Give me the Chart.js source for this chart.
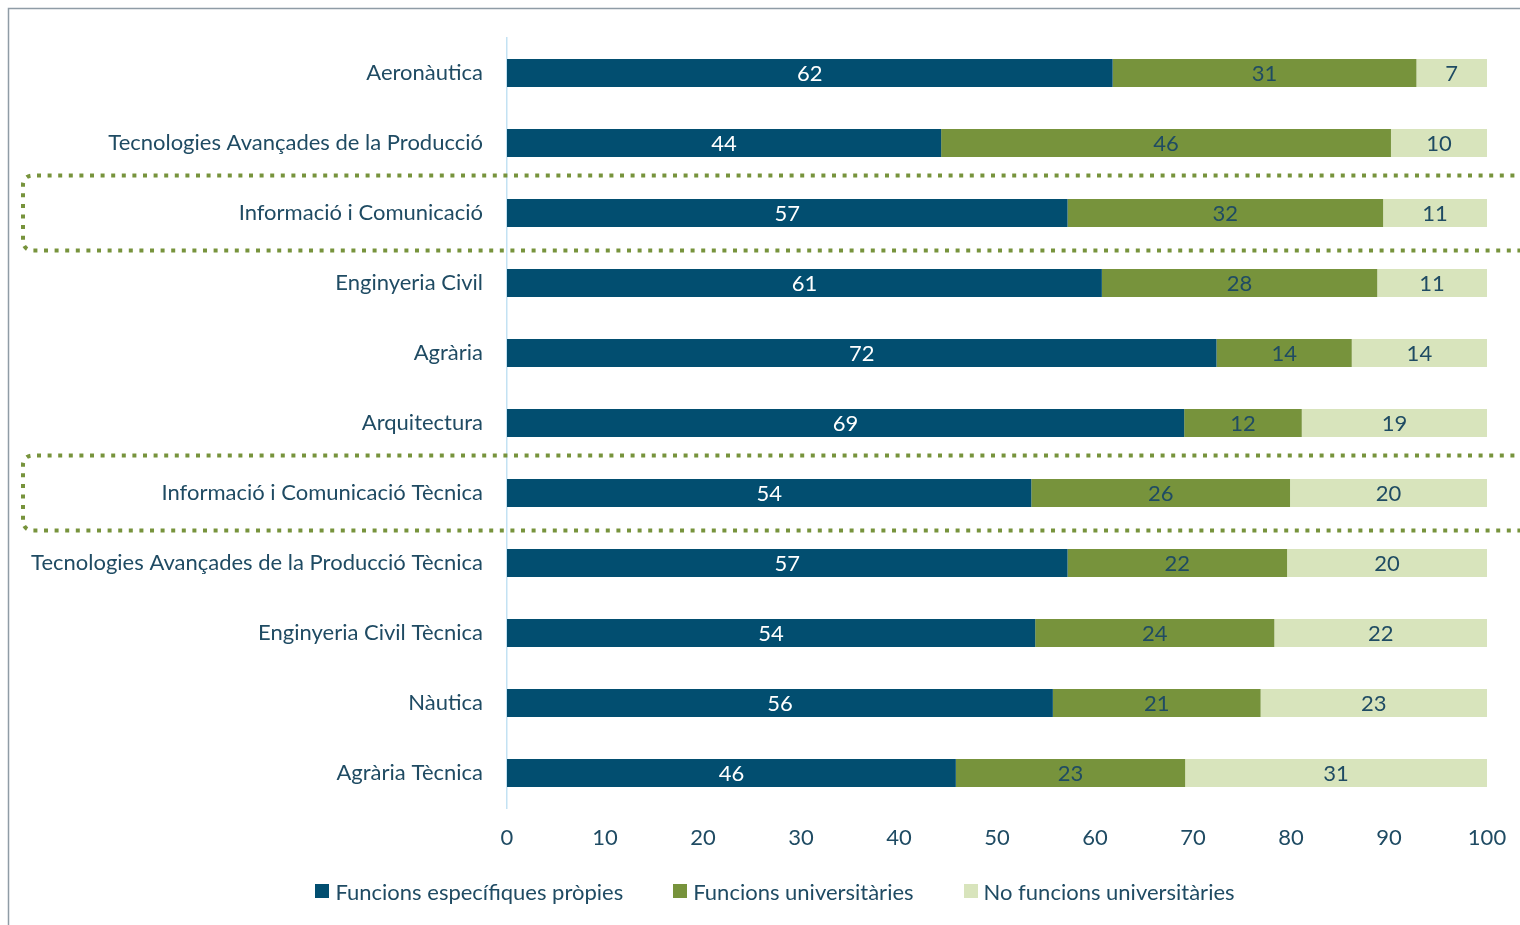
<!DOCTYPE html>
<html>
<head>
<meta charset="utf-8">
<script src="https://cdn.jsdelivr.net/npm/chart.js@4.4.0/dist/chart.umd.min.js"></script>
<style>
  html, body { margin: 0; padding: 0; background: #ffffff; }
  #wrap { position: relative; width: 1520px; height: 925px; overflow: hidden; }
  #legend {
    position: absolute; left: 0; top: 877px; width: 1550px; height: 28px;
    display: flex; justify-content: center; align-items: center; gap: 50px;
    font-family: Lato, sans-serif; font-size: 22px; color: #1f4b63;
  }
  #legend .item { display: flex; align-items: center; white-space: nowrap; }
  #legend .box { width: 14px; height: 14px; margin-right: 6px; display: inline-block; }
</style>
</head>
<body>
<div id="wrap">
  <canvas id="chart" width="1520" height="925"></canvas>
  <div id="legend"></div>
</div>
<script>
// Categories (top to bottom)
const categories = [
  "Aeronàutica",
  "Tecnologies Avançades de la Producció",
  "Informació i Comunicació",
  "Enginyeria Civil",
  "Agrària",
  "Arquitectura",
  "Informació i Comunicació Tècnica",
  "Tecnologies Avançades de la Producció Tècnica",
  "Enginyeria Civil Tècnica",
  "Nàutica",
  "Agrària Tècnica"
];

// Series values (%)
const propies = [61.8, 44.3, 57.2, 60.7, 72.4, 69.1, 53.5, 57.2, 53.9, 55.7, 45.8];
const universitaries = [31.0, 45.9, 32.2, 28.1, 13.8, 12.0, 26.4, 22.4, 24.4, 21.2, 23.4];
const noUniversitaries = [7.2, 9.8, 10.6, 11.2, 13.8, 18.9, 20.1, 20.4, 21.7, 23.1, 30.8];

// Labels shown inside the bars
const propiesLabels = [62, 44, 57, 61, 72, 69, 54, 57, 54, 56, 46];
const universitariesLabels = [31, 46, 32, 28, 14, 12, 26, 22, 24, 21, 23];
const noUniversitariesLabels = [7, 10, 11, 11, 14, 19, 20, 20, 22, 23, 31];

const seriesNames = ["Funcions específiques pròpies", "Funcions universitàries", "No funcions universitàries"];
const seriesColors = ["#024e70", "#77933c", "#d8e4bc"];
const xTicks = [0, 10, 20, 30, 40, 50, 60, 70, 80, 90, 100];

// Rows framed with a dotted box
const highlightedRows = ["Informació i Comunicació", "Informació i Comunicació Tècnica"];

const TEXT_COLOR = "#1f4b63";
const FONT = "Lato";
const FONT_SIZE = 22;

// Gray frame on the top and left sides
const framePlugin = {
  id: "frame",
  beforeDraw(chart) {
    const ctx = chart.ctx;
    ctx.save();
    ctx.strokeStyle = "#8f9ca6";
    ctx.lineWidth = 1.5;
    ctx.beginPath();
    ctx.moveTo(8.5, chart.height);
    ctx.lineTo(8.5, 8.5);
    ctx.lineTo(chart.width, 8.5);
    ctx.stroke();
    ctx.restore();
  }
};

// Values written inside each segment
const barLabelsPlugin = {
  id: "barLabels",
  afterDatasetsDraw(chart) {
    const ctx = chart.ctx;
    ctx.save();
    ctx.font = FONT_SIZE + "px " + FONT;
    ctx.textAlign = "center";
    ctx.textBaseline = "middle";
    chart.data.datasets.forEach((ds, i) => {
      const meta = chart.getDatasetMeta(i);
      meta.data.forEach((bar, j) => {
        const props = bar.getProps(["x", "y", "base"], true);
        const cx = (props.x + props.base) / 2;
        ctx.fillStyle = ds.labelColor;
        ctx.fillText(String(ds.shownLabels[j]), cx, props.y + 1);
      });
    });
    ctx.restore();
  }
};

// Dotted rounded boxes around highlighted rows
const highlightPlugin = {
  id: "highlight",
  afterDraw(chart) {
    const ctx = chart.ctx;
    const yScale = chart.scales.y;
    const step = yScale.getPixelForValue(1) - yScale.getPixelForValue(0);
    ctx.save();
    ctx.strokeStyle = "#77933c";
    ctx.lineWidth = 4;
    ctx.setLineDash([4, 6.6]);
    highlightedRows.forEach((name) => {
      const idx = categories.indexOf(name);
      const cy = yScale.getPixelForValue(idx);
      const top = cy - step * 0.535;
      const bottom = cy + step * 0.535;
      const left = 23;
      const r = 9;
      ctx.beginPath();
      ctx.moveTo(chart.width + 5, top);
      ctx.lineTo(left + r, top);
      ctx.arcTo(left, top, left, top + r, r);
      ctx.lineTo(left, bottom - r);
      ctx.arcTo(left, bottom, left + r, bottom, r);
      ctx.lineTo(chart.width + 5, bottom);
      ctx.stroke();
    });
    ctx.restore();
  }
};

// Legend below the axis
const legendEl = document.getElementById("legend");
seriesNames.forEach((name, i) => {
  const item = document.createElement("span");
  item.className = "item";
  const box = document.createElement("span");
  box.className = "box";
  box.style.background = seriesColors[i];
  item.appendChild(box);
  item.appendChild(document.createTextNode(name));
  legendEl.appendChild(item);
});

const ctx = document.getElementById("chart");

new Chart(ctx, {
  type: "bar",
  data: {
    labels: categories,
    datasets: [
      {
        label: seriesNames[0],
        data: propies,
        shownLabels: propiesLabels,
        labelColor: "#ffffff",
        backgroundColor: seriesColors[0],
        borderWidth: 0,
        barPercentage: 0.4,
        categoryPercentage: 1
      },
      {
        label: seriesNames[1],
        data: universitaries,
        shownLabels: universitariesLabels,
        labelColor: TEXT_COLOR,
        backgroundColor: seriesColors[1],
        borderWidth: 0,
        barPercentage: 0.4,
        categoryPercentage: 1
      },
      {
        label: seriesNames[2],
        data: noUniversitaries,
        shownLabels: noUniversitariesLabels,
        labelColor: TEXT_COLOR,
        backgroundColor: seriesColors[2],
        borderWidth: 0,
        barPercentage: 0.4,
        categoryPercentage: 1
      }
    ]
  },
  options: {
    indexAxis: "y",
    responsive: false,
    animation: false,
    layout: {
      padding: { top: 38, right: 33, left: 0, bottom: 78 }
    },
    plugins: {
      legend: { display: false },
      tooltip: { enabled: false }
    },
    scales: {
      x: {
        stacked: true,
        min: 0,
        max: 100,
        afterBuildTicks: (scale) => {
          scale.ticks = xTicks.map((v) => ({ value: v }));
        },
        afterFit: (scale) => {
          scale.height = 39;
          scale.paddingLeft = 0;
          scale.paddingRight = 0;
        },
        grid: { display: false, drawTicks: false },
        border: { display: false },
        ticks: {
          color: TEXT_COLOR,
          font: { family: FONT, size: FONT_SIZE },
          padding: 17,
          maxRotation: 0
        }
      },
      y: {
        stacked: true,
        afterFit: (scale) => {
          scale.width = 507;
        },
        grid: { display: false, drawTicks: false },
        border: { display: true, color: "#c3e2f3", width: 1.5 },
        ticks: {
          color: TEXT_COLOR,
          font: { family: FONT, size: FONT_SIZE },
          padding: 24
        }
      }
    }
  },
  plugins: [framePlugin, barLabelsPlugin, highlightPlugin]
});
</script>
</body>
</html>
